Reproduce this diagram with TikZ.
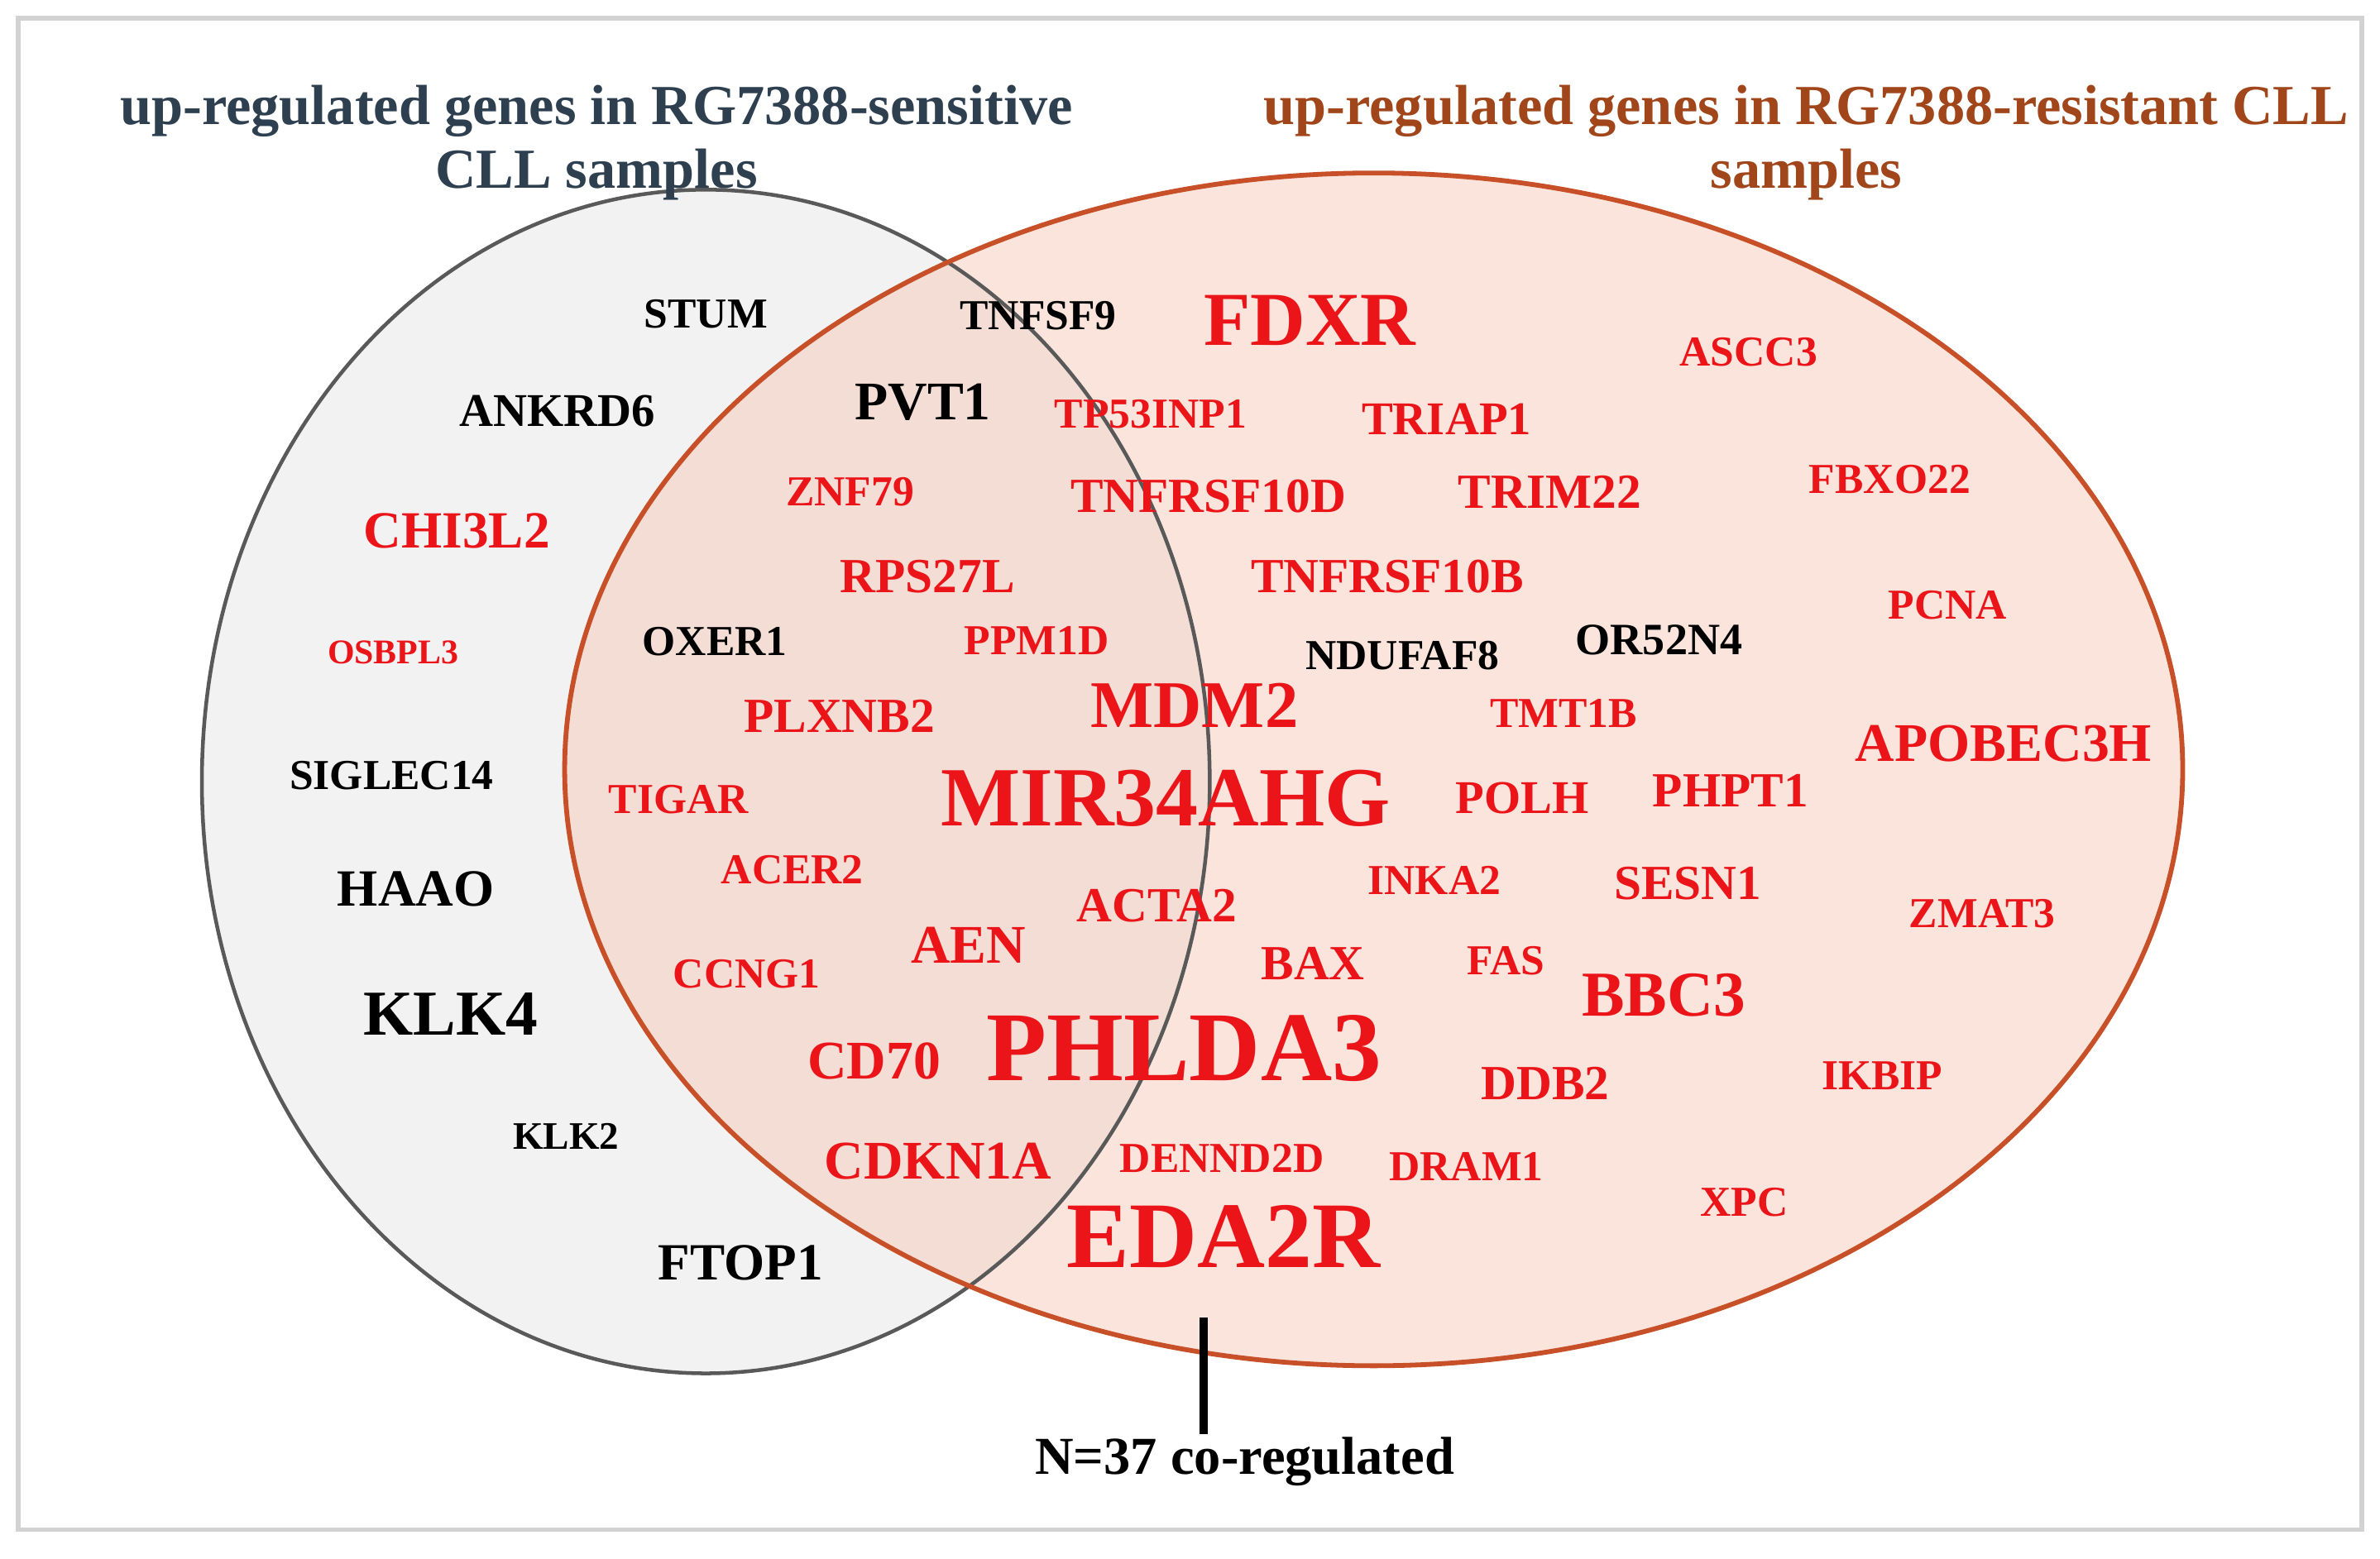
\documentclass[tikz,border=0pt]{standalone}
\usepackage{fontspec}
\setmainfont{Liberation Serif}
\definecolor{sensfill}{RGB}{242,242,242}
\definecolor{resfill}{RGB}{246,196,178}
\definecolor{resline}{RGB}{200,80,40}
\definecolor{senstitle}{RGB}{46,63,80}
\definecolor{restitle}{RGB}{160,70,26}
\definecolor{genered}{RGB}{235,20,25}
\begin{document}
\begin{tikzpicture}[thick,
  title node/.style={font=\fontsize{10.6}{12}\selectfont\bfseries,align=center},
  gene/.style={inner sep=1pt}]

	      \useasboundingbox (0,0) rectangle (15.68,10.27);
	      \draw[gray!35,line width=0.8pt] (0.12,0.19) rectangle (15.56,10.15);

	      \fill[sensfill] (4.65,5.12) ellipse (3.32 and 3.90);
	      \fill[resfill,opacity=0.45] (9.05,5.20) ellipse (5.33 and 3.93);
	      \draw[gray!70!black,line width=0.7pt] (4.65,5.12) ellipse (3.32 and 3.90);
	      \draw[resline,line width=0.9pt] (9.05,5.20) ellipse (5.33 and 3.93);

	      \node[title node,text=senstitle] (senstitle) at (3.93,9.33) {up-regulated genes in RG7388-sensitive\\CLL samples};
	      \node[title node,text=restitle] (restitle) at (11.90,9.33) {up-regulated genes in RG7388-resistant CLL\\samples};

	      % genes: x/y/size/colour/name
	      \foreach \x/\y/\s/\c/\g in {
	        4.65/8.20/8/black/STUM, 3.67/7.56/8.8/black/ANKRD6, 3.01/6.77/9.8/genered/CHI3L2,
	        2.59/5.97/6.5/genered/OSBPL3, 2.58/5.16/8/black/SIGLEC14, 2.74/4.41/9.8/black/HAAO,
	        2.97/3.59/12/black/KLK4, 3.73/2.78/7.3/black/KLK2, 4.88/1.95/9.8/black/FTOP1,
	        6.84/8.19/8/black/TNFSF9, 8.63/8.16/14.3/genered/FDXR, 6.08/7.62/10.2/black/PVT1,
	        7.58/7.54/8/genered/TP53INP1, 9.53/7.51/8.8/genered/TRIAP1, 5.60/7.03/8/genered/ZNF79,
	        7.96/7.00/9.2/genered/TNFRSF10D, 10.21/7.03/9.2/genered/TRIM22, 6.11/6.47/9.2/genered/RPS27L,
	        9.14/6.47/9.2/genered/TNFRSF10B, 4.71/6.04/8/black/OXER1, 6.83/6.05/8/genered/PPM1D,
	        9.24/5.95/8/black/NDUFAF8, 10.93/6.05/8.4/black/OR52N4, 7.87/5.62/12.5/genered/MDM2,
	        5.53/5.55/9.2/genered/PLXNB2, 10.30/5.57/8/genered/TMT1B, 4.47/5.00/8/genered/TIGAR,
	        7.68/5.01/15.8/genered/MIR34AHG, 10.03/5.01/8.8/genered/POLH, 11.40/5.06/9.2/genered/PHPT1,
	        5.22/4.54/8/genered/ACER2, 9.45/4.47/8/genered/INKA2, 11.12/4.45/9.2/genered/SESN1,
	        7.62/4.30/9.2/genered/ACTA2, 6.38/4.04/10.2/genered/AEN, 8.65/3.92/9.2/genered/BAX,
	        9.92/3.94/8/genered/FAS, 10.96/3.71/12/genered/BBC3, 4.92/3.85/8/genered/CCNG1,
	        5.76/3.28/10.2/genered/CD70, 7.80/3.36/18.5/genered/PHLDA3, 10.18/3.13/9.2/genered/DDB2,
	        6.18/2.62/10.2/genered/CDKN1A, 8.05/2.64/8/genered/DENND2D, 9.66/2.58/8/genered/DRAM1,
	        8.06/2.12/17.6/genered/EDA2R,
	        11.52/7.95/8/genered/ASCC3, 12.45/7.11/8/genered/FBXO22, 12.83/6.28/8/genered/PCNA,
	        13.20/5.37/10.2/genered/APOBEC3H, 13.06/4.25/8/genered/ZMAT3, 12.40/3.18/8/genered/IKBIP,
	        11.49/2.35/8/genered/XPC}
	      \node[gene,text=\c,font=\fontsize{\s}{\s}\selectfont\bfseries] (\g) at (\x,\y) {\g};

	      \coordinate (overlap) at (7.93,1.59);
	      \node[font=\fontsize{10}{12}\selectfont\bfseries,inner sep=1pt] (coreg) at (8.20,0.64) {N=37 co-regulated};
	      \draw[line width=1.6pt] (overlap) -- (7.93,0.82);

	    \end{tikzpicture}
\end{document}
